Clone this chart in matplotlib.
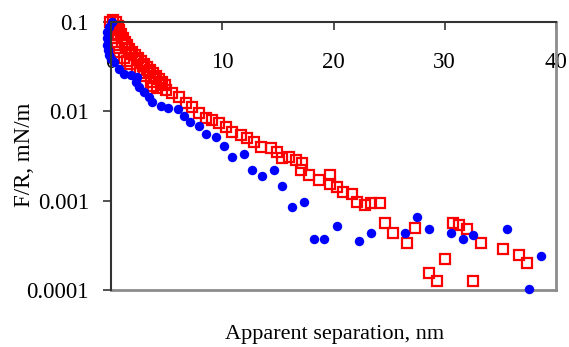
import matplotlib
matplotlib.use("Agg")
import matplotlib.pyplot as plt
from matplotlib.ticker import FixedLocator, NullLocator

plt.rcParams['font.family'] = ['Liberation Serif', 'DejaVu Serif']

# Blue series (filled circles)
blue_x = [0.09, -0.18, -0.36, -0.36, -0.36, -0.27, -0.18, 0.0, 0.27, 0.72, 1.17, 1.80,
          2.34, 2.25, 2.52, 2.97, 3.42, 3.69,
          4.50, 5.14, 6.04, 6.58, 7.12, 7.93, 8.56, 9.46, 10.18, 10.90, 11.98, 12.70,
          13.60, 14.68, 15.41, 16.31, 17.39, 18.29, 19.19, 20.27, 22.25, 23.33, 26.40,
          27.48, 28.56, 30.54, 31.62, 32.52, 35.59, 37.57, 38.65]
blue_y = [0.100, 0.0879, 0.0773, 0.0662, 0.0553, 0.0486, 0.0428, 0.0385, 0.0356, 0.0298,
          0.0262, 0.0255, 0.0242, 0.0213, 0.0187, 0.0164, 0.0145, 0.0127,
          0.0115, 0.0109, 0.0106, 0.00887, 0.0076,
          0.00686, 0.00557, 0.00516, 0.00409, 0.00308, 0.00333, 0.0022, 0.00189, 0.0022,
          0.00146, 0.00085, 0.000966, 0.000372, 0.000372, 0.00052, 0.000353, 0.000434,
          0.000434, 0.000656, 0.000482, 0.000434, 0.000372, 0.000413, 0.000482,
          0.000103, 0.00024]

# Red series (open squares)
red_x = [-0.09, 0.0, 0.09, 0.36, 0.72, 1.17, 1.71, 2.34, 2.97, 3.60, 4.14,
         0.18, 0.36, 0.63, 0.99, 1.35, 1.80, 2.34, 2.88, 3.42, 3.96, 4.50,
         0.45, 0.72, 1.08, 1.44, 1.89, 2.43, 2.97, 3.51, 4.05, 4.59,
         0.63, 0.90, 1.26, 1.62, 2.16, 2.70, 3.24, 3.78, 4.32, 4.86,
         0.09, 0.54, 1.44, 2.61, 3.78,
         4.95, 5.50, 6.13, 6.76, 7.30, 7.93, 8.56, 9.10, 9.73, 10.36, 10.90, 11.71,
         12.25, 12.88, 13.51, 14.41, 14.95, 15.41, 16.04, 16.67, 17.21, 17.12, 17.84,
         18.74, 19.73, 19.73, 20.27, 20.81, 21.62, 22.07, 22.79, 23.33, 24.14, 24.59,
         25.32, 26.58, 27.30, 28.56, 29.28, 30.00, 30.72, 31.26, 31.98, 32.52, 33.24,
         35.23, 36.67, 37.39]
red_y = [0.100, 0.0813, 0.0662, 0.0553, 0.0462, 0.0395, 0.0339, 0.0290, 0.0249, 0.0213,
         0.0182,
         0.105, 0.0857, 0.0715, 0.0597, 0.0511, 0.0438, 0.0376, 0.0322, 0.0276, 0.0236,
         0.0202,
         0.100, 0.0813, 0.0662, 0.0553, 0.0462, 0.0395, 0.0339, 0.0290, 0.0249, 0.0213,
         0.0902, 0.0734, 0.0597, 0.0499, 0.0428, 0.0366, 0.0313, 0.0269, 0.0230, 0.0197,
         0.0734, 0.0511, 0.0366, 0.0269, 0.0192,
         0.0173, 0.0160, 0.0145, 0.0124, 0.0112, 0.00957, 0.00841, 0.0080,
         0.0074, 0.00668, 0.00587, 0.00543, 0.00503, 0.00454, 0.00399, 0.00388, 0.00351,
         0.00301, 0.00308, 0.00285, 0.00264, 0.0022, 0.00194, 0.0017, 0.00194, 0.00154,
         0.00142, 0.00125, 0.00119, 0.000966, 0.000893, 0.000942, 0.000942, 0.000562,
         0.000434, 0.000336, 0.000494, 0.000155, 0.000126, 0.000222, 0.000562, 0.000534,
         0.000482, 0.000126, 0.000336, 0.000288, 0.000247, 0.0002]

x_ticks = [0, 10, 20, 30, 40]
y_ticks = [0.0001, 0.001, 0.01, 0.1]
y_tick_labels = ['0.0001', '0.001', '0.01', '0.1']

fig = plt.figure(figsize=(5.69, 3.47), dpi=100)
ax = fig.add_axes([111/569, 1 - 290/347, (556-111)/569, (290-22)/347])

ax.plot(red_x, red_y, linestyle='none', marker='s', markersize=7.0,
        markerfacecolor='none', markeredgecolor='#ff0000', markeredgewidth=1.6,
        clip_on=False, zorder=3)
ax.plot(blue_x, blue_y, linestyle='none', marker='o', markersize=6.8,
        markerfacecolor='#0000ff', markeredgecolor='#0000ff', markeredgewidth=0,
        clip_on=False, zorder=4)

ax.set_yscale('log')
ax.set_xlim(0, 40)
ax.set_ylim(0.0001, 0.1)

ax.yaxis.set_major_locator(FixedLocator(y_ticks))
ax.set_yticklabels(y_tick_labels)
ax.yaxis.set_minor_locator(NullLocator())
ax.xaxis.set_major_locator(FixedLocator(x_ticks))
ax.set_xticklabels([str(v) for v in x_ticks])

ax.xaxis.tick_top()
ax.tick_params(axis='x', top=True, bottom=False, labeltop=True, labelbottom=False,
               direction='in', length=6, width=1.2, color='#333333', pad=-37,
               labelsize=16.5)
ax.tick_params(axis='y', left=True, right=False, direction='out', length=6, width=1.2,
               color='#333333', pad=10, labelsize=16.5)

for side in ['left', 'top']:
    ax.spines[side].set_color('#333333')
    ax.spines[side].set_linewidth(1.5)
for side in ['right', 'bottom']:
    ax.spines[side].set_color('#8c8c8c')
    ax.spines[side].set_linewidth(2)
ax.spines['left'].set_zorder(5)
ax.spines['top'].set_zorder(5)

fig.text(335/569, 1 - 334/347, 'Apparent separation, nm', ha='center', va='center',
         fontsize=16)
fig.text(25/569, 1 - 155/347, 'F/R, mN/m', ha='center', va='center', rotation=90,
         fontsize=16.5)

fig.savefig('out.png', dpi=100)
